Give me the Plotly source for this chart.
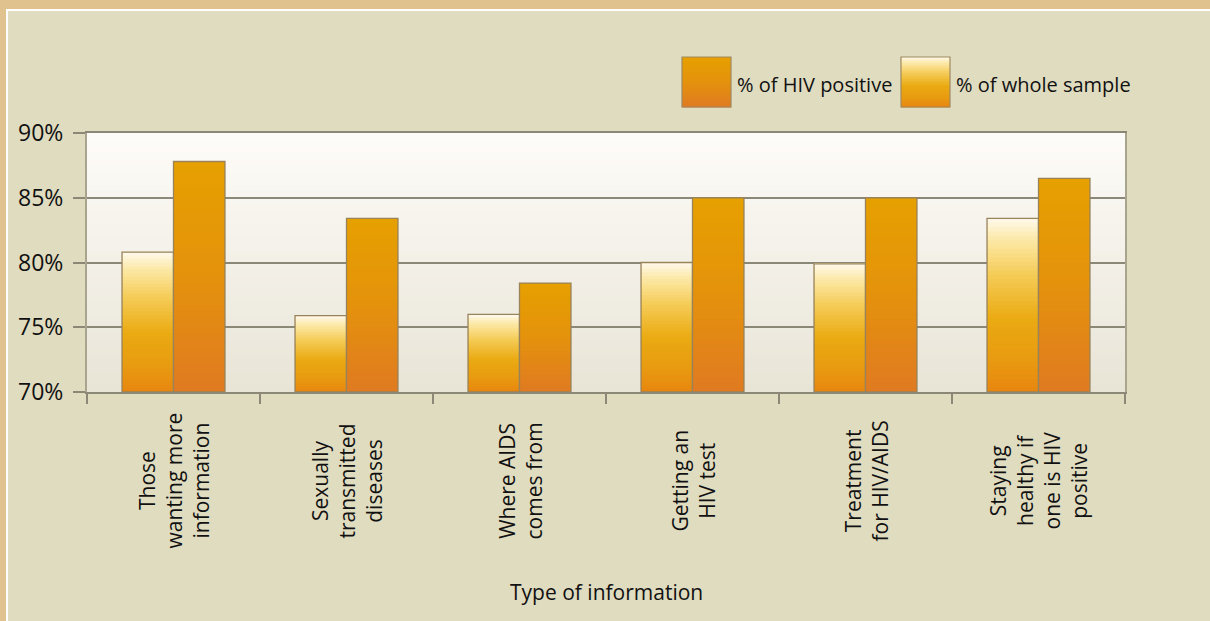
import plotly.graph_objects as go

# data
categories = [
    "Those<br>wanting more<br>information",
    "Sexually<br>transmitted<br>diseases",
    "Where AIDS<br>comes from",
    "Getting an<br>HIV test",
    "Treatment<br>for HIV/AIDS",
    "Staying<br>healthy if<br>one is HIV<br>positive",
]
cat_keys = ["c1", "c2", "c3", "c4", "c5", "c6"]
whole_sample = [80.8, 75.9, 76.0, 80.0, 79.9, 83.4]
hiv_positive = [87.8, 83.4, 78.4, 85.0, 85.0, 86.5]
y_ticks = [70, 75, 80, 85, 90]
y_tick_text = ["70%", "75%", "80%", "85%", "90%"]

BASE = 70
W, H = 1210, 621
L, R, T, B = 87, 85, 133, 229
FONT = "Open Sans"
BG = "#E0DCC0"
GRID = "#8C8878"

# gradients, top -> bottom
WHOLE_GRAD = [(0.0, "#FFF9EC"), (0.12, "#FCE9A8"), (0.32, "#F5CC58"),
              (0.58, "#EAAA12"), (0.82, "#E89A10"), (1.0, "#E8860F")]
HIV_GRAD = [(0.0, "#E6A000"), (0.5, "#E4920C"), (1.0, "#E07A22")]
BACK_GRAD = [(0.0, "#FEFCF9"), (0.5, "#F3F0E8"), (1.0, "#E8E4D6")]


def hex_rgb(h):
    h = h.lstrip("#")
    return [int(h[i:i + 2], 16) for i in (0, 2, 4)]


def grad_colour(stops, t):
    for (t0, c0), (t1, c1) in zip(stops, stops[1:]):
        if t <= t1:
            f = 0 if t1 == t0 else (t - t0) / (t1 - t0)
            a, b = hex_rgb(c0), hex_rgb(c1)
            return "rgb(%d,%d,%d)" % tuple(round(a[i] + (b[i] - a[i]) * f) for i in range(3))
    return stops[-1][1]


def px_x(x):
    return (x - L) / (W - L - R)


def px_y(y):
    return (H - B - y) / (H - T - B)


fig = go.Figure()

# gradient bars: each layer starts a bit higher and runs to the top,
# so the later (upper) layers cover the earlier ones without seams
N = 40
for name, vals, stops, grp in [
    ("% of whole sample", whole_sample, WHOLE_GRAD, "a"),
    ("% of HIV positive", hiv_positive, HIV_GRAD, "b"),
]:
    heights = [v - BASE for v in vals]
    for k in range(N):
        t = 1 - (k + 0.5) / N
        fig.add_trace(go.Bar(
            x=cat_keys,
            y=[h * (N - k) / N for h in heights],
            base=[BASE + h * k / N for h in heights],
            offsetgroup=grp,
            marker=dict(color=grad_colour(stops, t), line=dict(width=0)),
            showlegend=False,
            hoverinfo="skip",
        ))
    fig.add_trace(go.Bar(
        x=cat_keys,
        y=heights,
        base=[BASE] * len(vals),
        offsetgroup=grp,
        name=name,
        marker=dict(color="rgba(0,0,0,0)", line=dict(color="#98835A", width=1.3)),
        showlegend=False,
        customdata=vals,
        hovertemplate=name + ": %{customdata:.1f}%<extra></extra>",
    ))

shapes = []
# back wall gradient
NB = 40
for k in range(NB):
    shapes.append(dict(
        type="rect", xref="x domain", yref="y domain", layer="below",
        x0=0, x1=1, y0=1 - (k + 1) / NB - 0.002, y1=1 - k / NB,
        fillcolor=grad_colour(BACK_GRAD, (k + 0.5) / NB), line=dict(width=0),
    ))

# frame: tan strip on left and top, then a thin white line
shapes += [
    dict(type="rect", xref="paper", yref="paper", x0=px_x(0), x1=px_x(6), y0=px_y(H), y1=px_y(0),
         fillcolor="#DFC28E", line=dict(width=0)),
    dict(type="rect", xref="paper", yref="paper", x0=px_x(0), x1=px_x(W), y0=px_y(9), y1=px_y(0),
         fillcolor="#DFC28E", line=dict(width=0)),
    dict(type="rect", xref="paper", yref="paper", x0=px_x(6), x1=px_x(8), y0=px_y(H), y1=px_y(9),
         fillcolor="#FFFFFF", line=dict(width=0)),
    dict(type="rect", xref="paper", yref="paper", x0=px_x(6), x1=px_x(W), y0=px_y(11), y1=px_y(9),
         fillcolor="#FFFFFF", line=dict(width=0)),
]

# hand-drawn legend with gradient swatches
annotations = []
for x0, stops, label in [(682, HIV_GRAD, "% of HIV positive"), (901, WHOLE_GRAD, "% of whole sample")]:
    NS = 25
    for k in range(NS):
        shapes.append(dict(
            type="rect", xref="paper", yref="paper",
            x0=px_x(x0), x1=px_x(x0 + 49),
            y0=px_y(57 + 50 * (k + 1) / NS + 0.6), y1=px_y(57 + 50 * k / NS),
            fillcolor=grad_colour(stops, (k + 0.5) / NS), line=dict(width=0),
        ))
    shapes.append(dict(
        type="rect", xref="paper", yref="paper",
        x0=px_x(x0), x1=px_x(x0 + 49), y0=px_y(107), y1=px_y(57),
        line=dict(color="#A08A60", width=1.2),
    ))
    annotations.append(dict(
        xref="paper", yref="paper", x=px_x(x0 + 53), y=px_y(85),
        xanchor="left", yanchor="middle", showarrow=False,
        text=label, font=dict(family=FONT, size=20, color="#111111"),
    ))

# category labels, rotated and centred
for key, label in zip(cat_keys, categories):
    annotations.append(dict(
        xref="x", yref="paper", x=key, y=px_y(481),
        xanchor="center", yanchor="middle", showarrow=False,
        text=label, textangle=-90, align="center",
        font=dict(family=FONT, size=21, color="#111111"),
    ))

annotations.append(dict(
    xref="paper", yref="paper", x=0.5, y=px_y(592),
    xanchor="center", yanchor="middle", showarrow=False,
    text="Type of information", font=dict(family=FONT, size=21, color="#111111"),
))

fig.update_layout(
    width=W, height=H,
    margin=dict(l=L, r=R, t=T, b=B, pad=0),
    paper_bgcolor=BG,
    plot_bgcolor="#F4F1EA",
    barmode="group",
    bargap=0.405,
    bargroupgap=0,
    showlegend=False,
    shapes=shapes,
    annotations=annotations,
    font=dict(family=FONT, color="#111111"),
    xaxis=dict(
        type="category", categoryorder="array", categoryarray=cat_keys,
        range=[-0.5, 5.5],
        showticklabels=False, showgrid=False,
        showline=True, linecolor=GRID, linewidth=2, mirror=True,
        ticks="outside", tickson="boundaries", ticklen=10, tickcolor=GRID, tickwidth=2,
        zeroline=False,
    ),
    yaxis=dict(
        range=[70, 90], tickvals=y_ticks, ticktext=y_tick_text,
        tickfont=dict(family=FONT, size=23, color="#111111"),
        showgrid=True, gridcolor=GRID, gridwidth=2,
        showline=True, linecolor="#A8A48E", linewidth=2, mirror=True,
        ticks="outside", ticklen=12, tickcolor=GRID, tickwidth=2,
        ticklabelstandoff=5, zeroline=False,
    ),
)

fig.write_html(
    "out.html",
    config={"displayModeBar": False},
    post_script="document.body.style.margin='0';",
)
